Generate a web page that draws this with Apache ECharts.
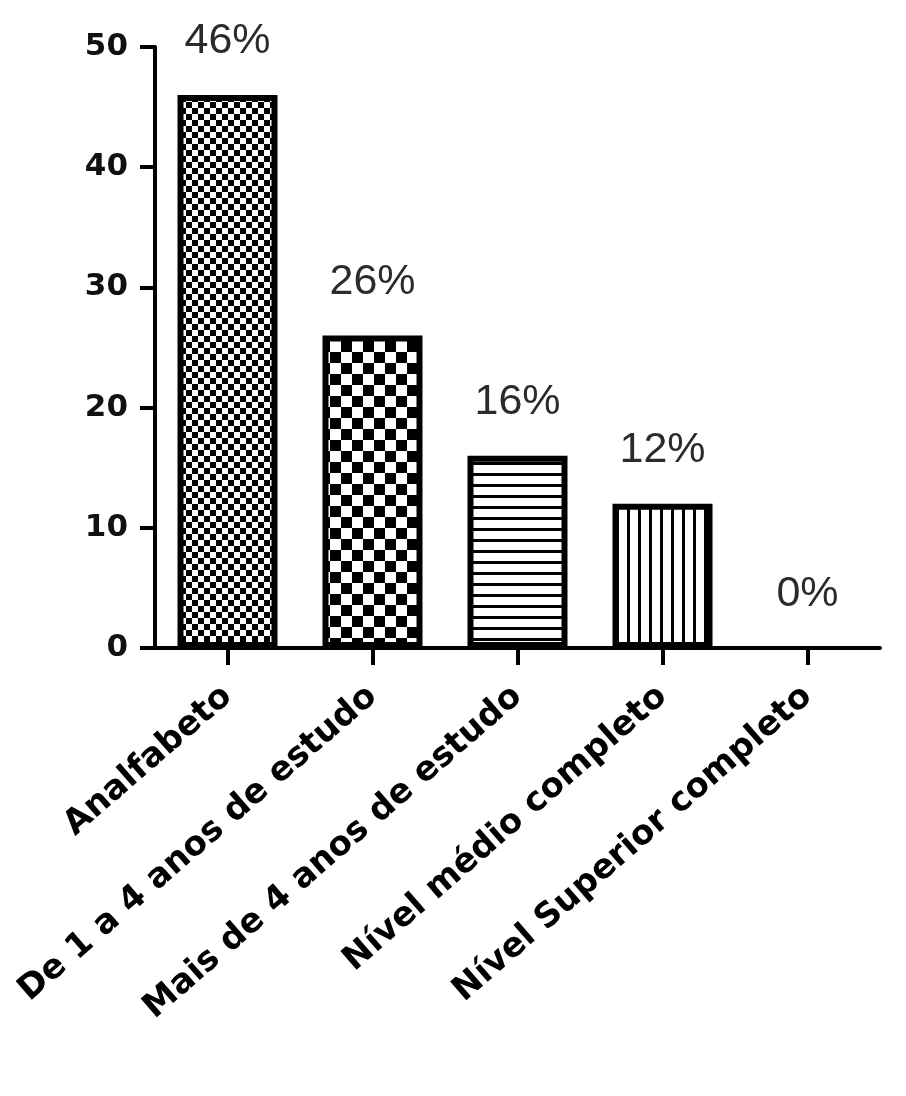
<!DOCTYPE html>
<html>
<head>
<meta charset="utf-8">
<script src="https://cdn.jsdelivr.net/npm/echarts@6/dist/echarts.min.js"></script>
<style>
html,body{margin:0;padding:0;background:#fff;}
#chart{width:906px;height:1096px;}
</style>
</head>
<body>
<div id="chart"></div>
<script>
const categories = ['Analfabeto', 'De 1 a 4 anos de estudo', 'Mais de 4 anos de estudo', 'Nível médio completo', 'Nível Superior completo'];
const values = [46, 26, 16, 12, 0];
const valueLabels = ['46%', '26%', '16%', '12%', '0%'];
const yMin = 0, yMax = 50, yInterval = 10;

function checker(cell) {
  const c = document.createElement('canvas');
  c.width = c.height = cell * 2;
  const g = c.getContext('2d');
  g.fillStyle = '#fff'; g.fillRect(0, 0, cell * 2, cell * 2);
  g.fillStyle = '#000';
  g.fillRect(0, 0, cell, cell);
  g.fillRect(cell, cell, cell, cell);
  return c;
}
function hlines(gap, w) {
  const c = document.createElement('canvas');
  c.width = 4; c.height = gap;
  const g = c.getContext('2d');
  g.fillStyle = '#fff'; g.fillRect(0, 0, 4, gap);
  g.fillStyle = '#000'; g.fillRect(0, 0, 4, w);
  return c;
}
function vlines(gap, w) {
  const c = document.createElement('canvas');
  c.width = gap; c.height = 4;
  const g = c.getContext('2d');
  g.fillStyle = '#fff'; g.fillRect(0, 0, gap, 4);
  g.fillStyle = '#000'; g.fillRect(0, 0, w, 4);
  return c;
}
const patterns = [checker(6), checker(11), hlines(11, 3), vlines(11, 3), hlines(11, 3)];

const chart = echarts.init(document.getElementById('chart'), null, {renderer: 'canvas'});
chart.setOption({
  animation: false,
  backgroundColor: '#fff',
  grid: {left: 155, right: 26, top: 47, bottom: 448, containLabel: false},
  xAxis: {
    type: 'category',
    data: categories,
    axisLine: {show: true, lineStyle: {color: '#000', width: 4}},
    axisTick: {show: true, alignWithLabel: true, length: 17, lineStyle: {color: '#000', width: 4}},
    axisLabel: {
      interval: 0, rotate: 41, margin: 44,
      fontFamily: 'DejaVu Sans', fontWeight: 'bold', fontSize: 34, color: '#000'
    },
    splitLine: {show: false}
  },
  yAxis: {
    type: 'value',
    min: yMin, max: yMax, interval: yInterval,
    axisLine: {show: true, lineStyle: {color: '#000', width: 4}},
    axisTick: {show: true, length: 15, lineStyle: {color: '#000', width: 4}},
    axisLabel: {margin: 27, fontFamily: 'DejaVu Sans', fontWeight: 'bold', fontSize: 31, color: '#111'},
    splitLine: {show: false}
  },
  series: [{
    type: 'bar',
    barWidth: 100,
    data: values.map((v, i) => ({
      value: v,
      itemStyle: {color: {image: patterns[i], repeat: 'repeat'}, borderColor: '#000', borderWidth: v > 0 ? 6 : 0}
    })),
    label: {
      show: true, position: 'top', distance: 32,
      formatter: p => valueLabels[p.dataIndex],
      fontFamily: 'Liberation Sans', fontSize: 43, color: '#2b2b2b'
    }
  }]
});
</script>
</body>
</html>
